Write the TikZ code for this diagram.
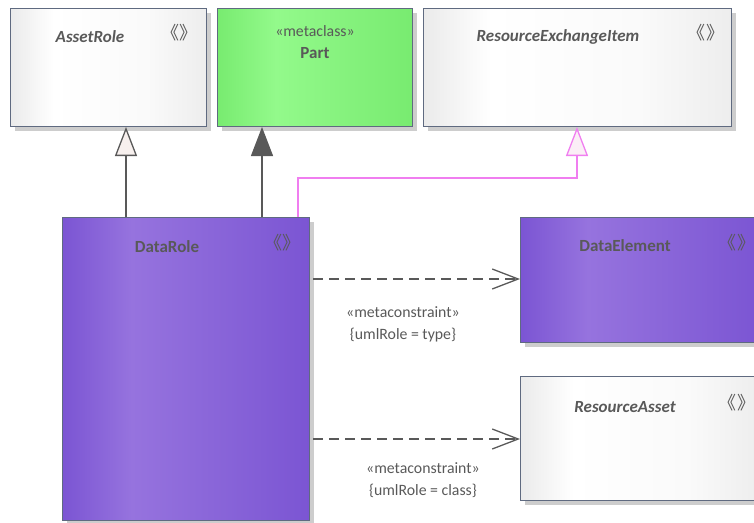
\documentclass[tikz,border=0pt]{standalone}
\usepackage{fontspec}
\setmainfont{Carlito}
\newfontfamily\cjk{Noto Sans CJK SC}
\usetikzlibrary{arrows.meta,shadows,calc}
\definecolor{txt}{HTML}{595959}
\definecolor{bord}{HTML}{5F6A80}
\definecolor{pinkl}{HTML}{F07EF0}
\definecolor{pinkf}{HTML}{FBEEF6}
\definecolor{genf}{HTML}{F7F0EE}
\definecolor{shd}{HTML}{CDCDCD}
\definecolor{pa}{HTML}{7B55D3}
\definecolor{pb}{HTML}{9673DE}
\definecolor{pc}{HTML}{8A66D9}
\definecolor{ga}{HTML}{78EB70}
\definecolor{gb}{HTML}{93FA8B}
\definecolor{gc}{HTML}{86F27E}
\pgfdeclarehorizontalshading{greysh}{100bp}{color(0bp)=(gray!16); color(25bp)=(gray!16); color(36bp)=(white); color(60bp)=(white!96!gray); color(75bp)=(gray!14); color(100bp)=(gray!14)}
\pgfdeclarehorizontalshading{purpsh}{100bp}{color(0bp)=(pa); color(25bp)=(pa); color(39bp)=(pb); color(55bp)=(pc); color(75bp)=(pa); color(100bp)=(pa)}
\pgfdeclarehorizontalshading{greensh}{100bp}{color(0bp)=(ga); color(25bp)=(ga); color(40bp)=(gb); color(57bp)=(gc); color(75bp)=(ga); color(100bp)=(ga)}
\newcommand{\dblang}{\hspace{-5pt}《\hspace{1pt}》\hspace{-5pt}}
\tikzset{
  box/.style={draw=bord, line width=1pt, anchor=north west, inner sep=0pt,
    drop shadow={shadow xshift=4pt, shadow yshift=-4pt, fill=shd, opacity=1}},
  greybox/.style={box, shading=greysh},
  purplebox/.style={box, shading=purpsh},
  greenbox/.style={box, shading=greensh},
  ttl/.style={text=txt, font=\fontsize{17}{19}\selectfont\bfseries\itshape},
  ttlup/.style={text=txt, font=\fontsize{17}{19}\selectfont\bfseries},
  ster/.style={text=txt, font=\fontsize{15.8}{18}\selectfont},
  dbl/.style={text=txt, inner sep=0pt, font=\fontsize{18}{20}\cjk},
  lbl/.style={text=txt, font=\fontsize{15.8}{22}\selectfont, align=center},
  conn/.style={draw=txt, line width=1.3pt},
  gen/.style={conn, -{Triangle[length=29pt,width=22pt,fill=genf]}},
  genfill/.style={conn, -{Triangle[length=29pt,width=22pt,fill=txt]}},
  dep/.style={conn, dash pattern=on 10pt off 6pt, -{Straight Barb[length=26pt,width=20pt,line width=1.3pt]}},
}
\begin{document}
\begin{tikzpicture}[x=1pt,y=-1pt]
\useasboundingbox (0,0) rectangle (754,522);
% boxes
\node[greybox, minimum width=196pt, minimum height=118pt] (asset) at (10,8) {};
\node[greenbox, minimum width=195pt, minimum height=118pt] (part) at (217,8) {};
\node[greybox, minimum width=308pt, minimum height=118pt] (rei) at (423,8) {};
\node[purplebox, minimum width=247pt, minimum height=303pt] (datarole) at (62,217) {};
\node[purplebox, minimum width=240pt, minimum height=125pt] (dataelem) at (520,217) {};
\node[greybox, minimum width=240pt, minimum height=124pt] (resasset) at (520,376) {};
% titles
\node[ttl] (t1) at (90,37) {AssetRole};
\node[dbl] (s1) at (182,33) {\dblang};
\node[ster] (t2a) at (315,31) {«metaclass»};
\node[ttlup] (t2b) at (315,53) {Part};
\node[ttl] (t3) at (558,37) {ResourceExchangeItem};
\node[dbl] (s3) at (708,33) {\dblang};
\node[ttlup] (t4) at (167,247) {DataRole};
\node[dbl] (s4) at (285,243) {\dblang};
\node[ttlup] (t5) at (625,246) {DataElement};
\node[dbl] (s5) at (739,243) {\dblang};
\node[ttl] (t6) at (625,407) {ResourceAsset};
\node[dbl] (s6) at (739,403) {\dblang};
% connectors
\coordinate (g1s) at (126,217);
\coordinate (g2s) at (262,217);
\draw[gen] (g1s) -- (g1s |- asset.south);
\draw[genfill] (g2s) -- (g2s |- part.south);
\coordinate (p1) at (298,217);
\coordinate (p2) at (298,178);
\coordinate (p3) at (577,178);
\draw[draw=pinkl, line width=1.3pt, -{Triangle[length=29pt,width=22pt,fill=pinkf]}] (p1) -- (p2) -- (p3) -- (p3 |- rei.south);
\coordinate (d1) at (313,279);
\draw[dep] (d1) -- (d1 -| dataelem.west);
\coordinate (d2) at (313,439);
\draw[dep] (d2) -- (d2 -| resasset.west);
\node[lbl] (l1) at (403,324) {«metaconstraint»\\\{umlRole = type\}};
\node[lbl] (l2) at (423,480) {«metaconstraint»\\\{umlRole = class\}};
\end{tikzpicture}
\end{document}
